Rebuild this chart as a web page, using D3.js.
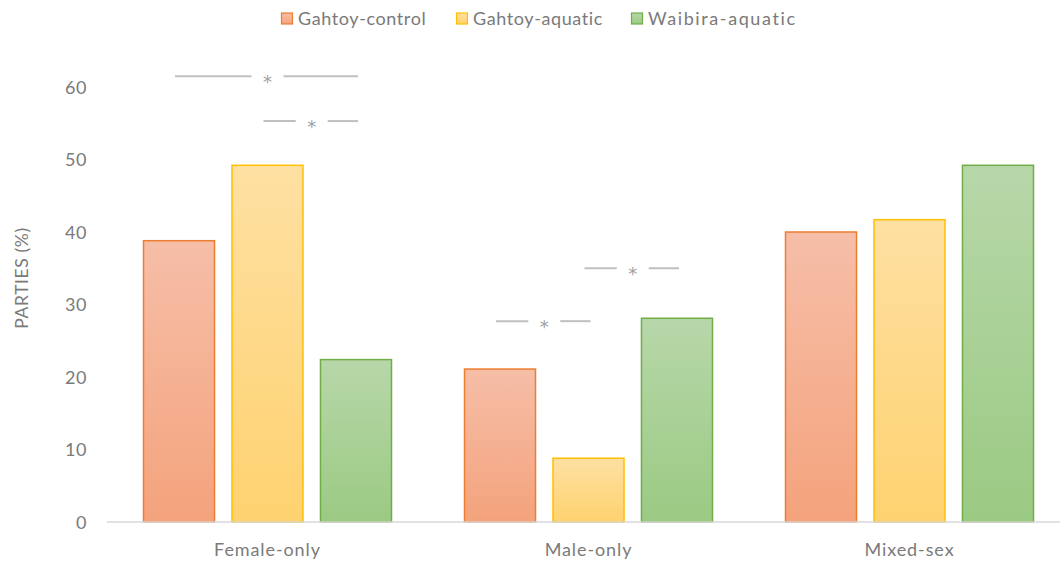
<!DOCTYPE html>
<html><head><meta charset="utf-8">
<script src="https://cdn.jsdelivr.net/npm/d3@7/dist/d3.min.js"></script>
<style>body{margin:0;background:#fff}svg{display:block}text{font-family:Lato,"Open Sans",sans-serif}</style>
</head><body>
<svg id="c" width="1062" height="562"></svg>
<script>
const categories = ["Female-only", "Male-only", "Mixed-sex"];
const seriesNames = ["Gahtoy-control", "Gahtoy-aquatic", "Waibira-aquatic"];
const gahtoyControl = [38.8, 21.1, 40.0];
const gahtoyAquatic = [49.2, 8.8, 41.7];
const waibiraAquatic = [22.4, 28.1, 49.2];
const yTicks = [0, 10, 20, 30, 40, 50, 60];
// significance brackets: category index, from series, to series, y level
const sigCat = [0, 0, 1, 1];
const sigFrom = [0, 1, 0, 1];
const sigTo = [2, 2, 1, 2];
const sigY = [61.5, 55.3, 27.7, 35.0];

const values = [gahtoyControl, gahtoyAquatic, waibiraAquatic];
const colors = [
  {top:"#F6BEA8", bot:"#F4A37C", stroke:"#ED7D31"},
  {top:"#FEE0A2", bot:"#FFD270", stroke:"#FFC000"},
  {top:"#B7D7A9", bot:"#9BCA83", stroke:"#70AD47"}
];
const textCol = "#7A7A7A";

const svg = d3.select("#c");
const y = d3.scaleLinear().domain([0, 60]).range([522, 87]);
const x = d3.scaleBand().domain(categories).range([107, 1070]).padding(0);
const xs = d3.scaleBand().domain(d3.range(3)).range([36, 285]).paddingInner(0.186).paddingOuter(0);

const defs = svg.append("defs");
colors.forEach((c, i) => {
  const g = defs.append("linearGradient").attr("id", "g" + i).attr("x1", 0).attr("y1", 0).attr("x2", 0).attr("y2", 1);
  g.append("stop").attr("offset", "0%").attr("stop-color", c.top);
  g.append("stop").attr("offset", "100%").attr("stop-color", c.bot);
});

// y axis labels
const yAxis = d3.axisLeft(y).tickValues(yTicks).tickSize(0).tickPadding(0);
const ya = svg.append("g").attr("transform", "translate(87,0)").call(yAxis);
ya.select(".domain").remove();
ya.selectAll("text").attr("fill", textCol).style("font-size", "18px").style("font-family", "Lato,sans-serif")
  .style("letter-spacing", "0.5px").attr("dy", "0.36em");

svg.append("text").attr("transform", "translate(28,278) rotate(-90)")
  .attr("text-anchor", "middle").attr("fill", textCol).style("font-size", "17.5px")
  .style("letter-spacing", "0.6px").text("PARTIES (%)");

// bars
values.forEach((vals, s) => {
  svg.append("g").selectAll("rect").data(vals).join("rect")
    .attr("x", (d, i) => x(categories[i]) + xs(s) + 0.5)
    .attr("y", d => y(d))
    .attr("width", xs.bandwidth() - 1)
    .attr("height", d => y(0) - y(d))
    .attr("fill", "url(#g" + s + ")")
    .attr("stroke", colors[s].stroke).attr("stroke-width", 1.5);
});

// x axis
const xAxis = d3.axisBottom(x).tickSize(0).tickPadding(21);
const xa = svg.append("g").attr("transform", "translate(0,522)").call(xAxis);
xa.select(".domain").attr("stroke", "#D9D9D9").attr("stroke-width", 1.5).attr("d", "M107,0H1060");
xa.selectAll("text").attr("fill", textCol).style("font-size", "18px").style("font-family", "Lato,sans-serif")
  .style("letter-spacing", "0.9px");

// significance
const sig = svg.append("g");
sigCat.forEach((c, k) => {
  const x1 = x(categories[c]) + xs(sigFrom[k]) + xs.bandwidth() / 2;
  const x2 = x(categories[c]) + xs(sigTo[k]) + xs.bandwidth() / 2;
  const xm = (x1 + x2) / 2;
  const yy = y(sigY[k]);
  sig.append("line").attr("x1", x1 - 4).attr("x2", xm - 16).attr("y1", yy).attr("y2", yy).attr("stroke", "#BFBFBF").attr("stroke-width", 2);
  sig.append("line").attr("x1", xm + 16).attr("x2", x2 + 2).attr("y1", yy).attr("y2", yy).attr("stroke", "#BFBFBF").attr("stroke-width", 2);
  sig.append("text").attr("x", xm).attr("y", yy + 11.5).attr("text-anchor", "middle").attr("fill", "#A0A0A0")
    .style("font-family", "DejaVu Sans,sans-serif").style("font-size", "18px").text("*");
});

// legend
const legX = [281, 456, 631];
const legSpacing = [0.6, 0.6, 1.6];
const leg = svg.append("g");
seriesNames.forEach((n, i) => {
  leg.append("rect").attr("x", legX[i] + 0.5).attr("y", 13).attr("width", 11).attr("height", 11)
    .attr("fill", "url(#g" + i + ")").attr("stroke", colors[i].stroke).attr("stroke-width", 1.2);
  leg.append("text").attr("x", legX[i] + 17).attr("y", 25).attr("fill", textCol).style("font-size", "18px")
    .style("letter-spacing", legSpacing[i] + "px").text(n);
});
</script>
</body></html>
